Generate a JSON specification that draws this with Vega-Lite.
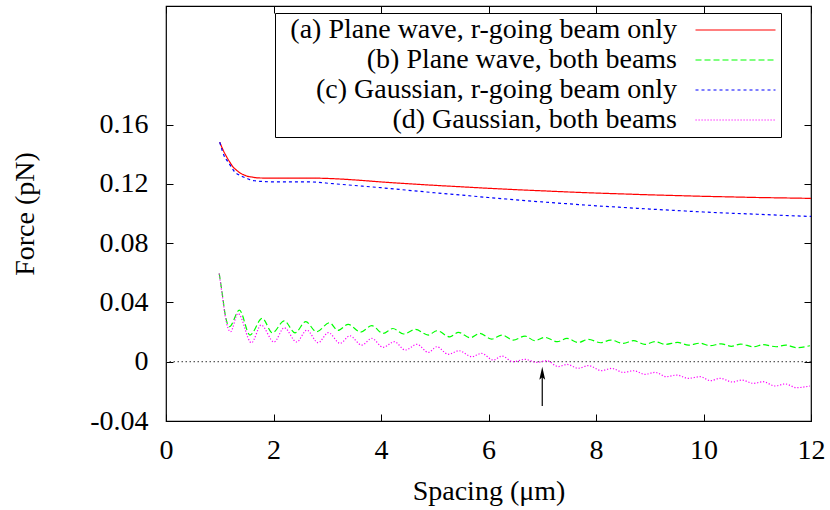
{
  "$schema": "https://vega.github.io/schema/vega-lite/v6.json",
  "width": 645,
  "height": 415,
  "autosize": {"type": "none"},
  "padding": {"left": 166, "top": 6, "right": 19, "bottom": 89},
  "background": "white",
  "config": {
    "view": {"stroke": "black", "strokeWidth": 1.2},
    "font": "Liberation Serif",
    "axis": {
      "domain": false, "grid": false,
      "tickColor": "black", "tickSize": -7, "tickWidth": 1,
      "labelFont": "Liberation Serif", "labelFontSize": 28, "labelColor": "black",
      "titleFont": "Liberation Serif", "titleFontSize": 28, "titleFontWeight": "normal", "titleColor": "black"
    }
  },
  "datasets": {
    "curves": [
      {"s":"a","x":1.0,"y":0.1481},{"s":"a","x":1.06,"y":0.143},{"s":"a","x":1.13,"y":0.1381},{"s":"a","x":1.19,"y":0.1345},{"s":"a","x":1.25,"y":0.1313},{"s":"a","x":1.32,"y":0.129},{"s":"a","x":1.38,"y":0.1273},{"s":"a","x":1.44,"y":0.1262},{"s":"a","x":1.5,"y":0.1253},{"s":"a","x":1.6,"y":0.1246},{"s":"a","x":1.69,"y":0.1241},{"s":"a","x":1.85,"y":0.1239},{"s":"a","x":2.06,"y":0.1239},{"s":"a","x":2.4,"y":0.1239},{"s":"a","x":2.68,"y":0.1239},{"s":"a","x":3.11,"y":0.1235},{"s":"a","x":3.61,"y":0.1224},{"s":"a","x":4.0,"y":0.1213},{"s":"a","x":4.5,"y":0.1201},{"s":"a","x":5.0,"y":0.119},{"s":"a","x":5.5,"y":0.118},{"s":"a","x":6.0,"y":0.117},{"s":"a","x":6.5,"y":0.1161},{"s":"a","x":7.0,"y":0.1153},{"s":"a","x":7.5,"y":0.1145},{"s":"a","x":8.0,"y":0.1138},{"s":"a","x":8.5,"y":0.1132},{"s":"a","x":9.0,"y":0.1126},{"s":"a","x":9.5,"y":0.1121},{"s":"a","x":10.0,"y":0.1116},{"s":"a","x":10.5,"y":0.1112},{"s":"a","x":11.0,"y":0.1108},{"s":"a","x":11.5,"y":0.1105},{"s":"a","x":12.0,"y":0.1102},
      {"s":"c","x":1.0,"y":0.1481},{"s":"c","x":1.05,"y":0.142},{"s":"c","x":1.1,"y":0.1375},{"s":"c","x":1.16,"y":0.1347},{"s":"c","x":1.22,"y":0.131},{"s":"c","x":1.28,"y":0.128},{"s":"c","x":1.36,"y":0.126},{"s":"c","x":1.44,"y":0.1246},{"s":"c","x":1.52,"y":0.1234},{"s":"c","x":1.59,"y":0.1224},{"s":"c","x":1.67,"y":0.122},{"s":"c","x":1.75,"y":0.1217},{"s":"c","x":2.06,"y":0.1213},{"s":"c","x":2.4,"y":0.1213},{"s":"c","x":2.68,"y":0.1213},{"s":"c","x":3.11,"y":0.1201},{"s":"c","x":3.61,"y":0.1186},{"s":"c","x":4.0,"y":0.1174},{"s":"c","x":4.5,"y":0.1157},{"s":"c","x":5.0,"y":0.114},{"s":"c","x":5.5,"y":0.1124},{"s":"c","x":6.0,"y":0.1108},{"s":"c","x":6.5,"y":0.1093},{"s":"c","x":7.0,"y":0.1078},{"s":"c","x":7.5,"y":0.1065},{"s":"c","x":8.0,"y":0.1052},{"s":"c","x":8.5,"y":0.1041},{"s":"c","x":9.0,"y":0.103},{"s":"c","x":9.5,"y":0.102},{"s":"c","x":10.0,"y":0.101},{"s":"c","x":10.5,"y":0.1002},{"s":"c","x":11.0,"y":0.0995},{"s":"c","x":11.5,"y":0.0987},{"s":"c","x":12.0,"y":0.098},
      {"s":"b","x":0.99,"y":0.0595},{"s":"b","x":1.05,"y":0.045},{"s":"b","x":1.1,"y":0.032},{"s":"b","x":1.18,"y":0.0236},{"s":"b","x":1.365,"y":0.0348},{"s":"b","x":1.563,"y":0.018},{"s":"b","x":1.79,"y":0.0293},{"s":"b","x":1.98,"y":0.0195},{"s":"b","x":2.2,"y":0.0276},{"s":"b","x":2.4,"y":0.0195},{"s":"b","x":2.6,"y":0.027},{"s":"b","x":2.8,"y":0.0202},{"s":"b","x":3.04,"y":0.0263},{"s":"b","x":3.2,"y":0.0211},{"s":"b","x":3.39,"y":0.0252},{"s":"b","x":3.62,"y":0.02},{"s":"b","x":3.83,"y":0.0243},{"s":"b","x":4.04,"y":0.0191},{"s":"b","x":4.22,"y":0.0224},{"s":"b","x":4.42,"y":0.0187},{"s":"b","x":4.64,"y":0.0218},{"s":"b","x":4.88,"y":0.018},{"s":"b","x":5.04,"y":0.0209},{"s":"b","x":5.28,"y":0.0168},{"s":"b","x":5.44,"y":0.0198},{"s":"b","x":5.66,"y":0.0162},{"s":"b","x":5.84,"y":0.0191},{"s":"b","x":6.06,"y":0.0153},{"s":"b","x":6.25,"y":0.018},{"s":"b","x":6.46,"y":0.0146},{"s":"b","x":6.68,"y":0.0173},{"s":"b","x":6.86,"y":0.0142},{"s":"b","x":7.05,"y":0.0164},{"s":"b","x":7.28,"y":0.0135},{"s":"b","x":7.46,"y":0.0157},{"s":"b","x":7.67,"y":0.013},{"s":"b","x":7.86,"y":0.0151},{"s":"b","x":8.09,"y":0.0128},{"s":"b","x":8.27,"y":0.0146},{"s":"b","x":8.51,"y":0.0124},{"s":"b","x":8.7,"y":0.0142},{"s":"b","x":8.91,"y":0.0117},{"s":"b","x":9.1,"y":0.0135},{"s":"b","x":9.29,"y":0.0117},{"s":"b","x":9.52,"y":0.013},{"s":"b","x":9.72,"y":0.0112},{"s":"b","x":9.94,"y":0.0125},{"s":"b","x":10.12,"y":0.0108},{"s":"b","x":10.33,"y":0.0121},{"s":"b","x":10.52,"y":0.0104},{"s":"b","x":10.69,"y":0.0119},{"s":"b","x":10.93,"y":0.0101},{"s":"b","x":11.11,"y":0.0115},{"s":"b","x":11.35,"y":0.0101},{"s":"b","x":11.53,"y":0.0112},{"s":"b","x":11.73,"y":0.0095},{"s":"b","x":11.98,"y":0.0108},
      {"s":"d","x":0.99,"y":0.0595},{"s":"d","x":1.05,"y":0.044},{"s":"d","x":1.1,"y":0.031},{"s":"d","x":1.2,"y":0.0202},{"s":"d","x":1.34,"y":0.0326},{"s":"d","x":1.59,"y":0.0128},{"s":"d","x":1.77,"y":0.0247},{"s":"d","x":2.01,"y":0.0133},{"s":"d","x":2.2,"y":0.0229},{"s":"d","x":2.43,"y":0.0133},{"s":"d","x":2.62,"y":0.0213},{"s":"d","x":2.83,"y":0.0128},{"s":"d","x":3.02,"y":0.0196},{"s":"d","x":3.24,"y":0.0124},{"s":"d","x":3.42,"y":0.0175},{"s":"d","x":3.64,"y":0.0112},{"s":"d","x":3.83,"y":0.0157},{"s":"d","x":4.04,"y":0.0097},{"s":"d","x":4.25,"y":0.0135},{"s":"d","x":4.45,"y":0.0079},{"s":"d","x":4.67,"y":0.0117},{"s":"d","x":4.88,"y":0.0063},{"s":"d","x":5.04,"y":0.0101},{"s":"d","x":5.25,"y":0.005},{"s":"d","x":5.45,"y":0.0074},{"s":"d","x":5.69,"y":0.0034},{"s":"d","x":5.87,"y":0.0056},{"s":"d","x":6.09,"y":0.0011},{"s":"d","x":6.25,"y":0.0038},{"s":"d","x":6.46,"y":0.0},{"s":"d","x":6.68,"y":0.0016},{"s":"d","x":6.9,"y":-0.0005},{"s":"d","x":7.08,"y":0.0007},{"s":"d","x":7.3,"y":-0.0033},{"s":"d","x":7.46,"y":-0.0018},{"s":"d","x":7.67,"y":-0.0044},{"s":"d","x":7.86,"y":-0.0026},{"s":"d","x":8.1,"y":-0.006},{"s":"d","x":8.29,"y":-0.0045},{"s":"d","x":8.51,"y":-0.0072},{"s":"d","x":8.7,"y":-0.0061},{"s":"d","x":8.91,"y":-0.0085},{"s":"d","x":9.1,"y":-0.0072},{"s":"d","x":9.31,"y":-0.0101},{"s":"d","x":9.5,"y":-0.009},{"s":"d","x":9.72,"y":-0.0112},{"s":"d","x":9.94,"y":-0.0101},{"s":"d","x":10.13,"y":-0.0128},{"s":"d","x":10.31,"y":-0.0112},{"s":"d","x":10.54,"y":-0.0137},{"s":"d","x":10.71,"y":-0.0124},{"s":"d","x":10.93,"y":-0.0146},{"s":"d","x":11.11,"y":-0.0135},{"s":"d","x":11.33,"y":-0.0164},{"s":"d","x":11.52,"y":-0.015},{"s":"d","x":11.73,"y":-0.0175},{"s":"d","x":11.98,"y":-0.0164}
    ]
  },
  "layer": [
    {
      "data": {"values": [{"z": 0}]},
      "mark": {"type": "rule", "color": "#333333", "strokeWidth": 1, "strokeDash": [1.5, 2.5]},
      "encoding": {
        "y": {"field": "z", "type": "quantitative", "scale": {"domain": [-0.04, 0.24], "nice": false, "zero": false}, "axis": null}
      }
    },
    {
      "data": {"name": "curves"},
      "mark": {"type": "line", "strokeWidth": 1.2, "interpolate": "monotone"},
      "encoding": {
        "x": {"field": "x", "type": "quantitative",
              "scale": {"domain": [0, 12], "nice": false, "zero": false},
              "axis": {"orient": "bottom", "values": [0, 2, 4, 6, 8, 10, 12], "title": "Spacing (μm)", "labelPadding": 22, "titlePadding": 13, "labelFlush": false, "labelOverlap": false}},
        "y": {"field": "y", "type": "quantitative",
              "scale": {"domain": [-0.04, 0.24], "nice": false, "zero": false},
              "axis": {"orient": "left", "values": [-0.04, 0, 0.04, 0.08, 0.12, 0.16], "labelExpr": "datum.value == 0 ? '0' : (datum.value < 0 ? '-' : '') + format(abs(datum.value), '.2f')", "title": "Force (pN)", "labelPadding": 25, "titlePadding": 50, "labelOverlap": false, "labelFlush": false}},
        "color": {"field": "s", "type": "nominal",
                  "scale": {"domain": ["a", "b", "c", "d"], "range": ["#ff0000", "#00ff00", "#0000ff", "#ff00ff"]},
                  "legend": {"title": null, "orient": "none", "legendX": 109, "legendY": 7, "padding": 3, "strokeColor": "black", "fillColor": "white",
                             "symbolType": "M-4,0L4,0", "symbolSize": 400, "symbolStrokeWidth": 1.2, "symbolFillColor": "transparent",
                             "labelAlign": "right", "labelOffset": -72.5, "symbolOffset": 443.5,
                             "labelFontSize": 28, "labelFont": "Liberation Serif", "labelColor": "black", "labelLimit": 1000, "rowPadding": 2,
                             "labelExpr": "datum.label == 'a' ? '(a) Plane wave, r-going beam only' : datum.label == 'b' ? '(b) Plane wave, both beams' : datum.label == 'c' ? '(c) Gaussian, r-going beam only' : '(d) Gaussian, both beams'",
                             "encode": {"symbols": {"update": {"strokeDash": {"scale": "strokeDash", "field": "value"}, "stroke": {"scale": "color", "field": "value"}}}}}},
        "strokeDash": {"field": "s", "type": "nominal",
                  "scale": {"domain": ["a", "b", "c", "d"], "range": [[1, 0], [6, 3], [3, 3], [1.2, 1.8]]},
                  "legend": null}
      }
    },
    {
      "data": {"values": [{"x": 7, "y": -0.0299, "y2": -0.009}]},
      "mark": {"type": "rule", "color": "black", "strokeWidth": 1.2},
      "encoding": {
        "x": {"field": "x", "type": "quantitative", "scale": {"domain": [0, 12], "nice": false, "zero": false},
              "axis": {"orient": "top", "values": [0, 2, 4, 6, 8, 10, 12], "labels": false, "title": null}},
        "y": {"field": "y", "type": "quantitative", "scale": {"domain": [-0.04, 0.24], "nice": false, "zero": false},
              "axis": {"orient": "right", "values": [-0.04, 0, 0.04, 0.08, 0.12, 0.16], "labels": false, "title": null}},
        "y2": {"field": "y2"}
      }
    },
    {
      "data": {"values": [{"x": 7, "y": -0.0078}]},
      "mark": {"type": "point", "shape": "M0,-1L-0.45,1L0,0.6L0.45,1Z", "filled": true, "color": "black", "opacity": 1, "size": 169},
      "encoding": {
        "x": {"field": "x", "type": "quantitative", "scale": {"domain": [0, 12], "nice": false, "zero": false}, "axis": null},
        "y": {"field": "y", "type": "quantitative", "scale": {"domain": [-0.04, 0.24], "nice": false, "zero": false}, "axis": null}
      }
    }
  ],
  "resolve": {"axis": {"x": "independent", "y": "independent"}}
}
